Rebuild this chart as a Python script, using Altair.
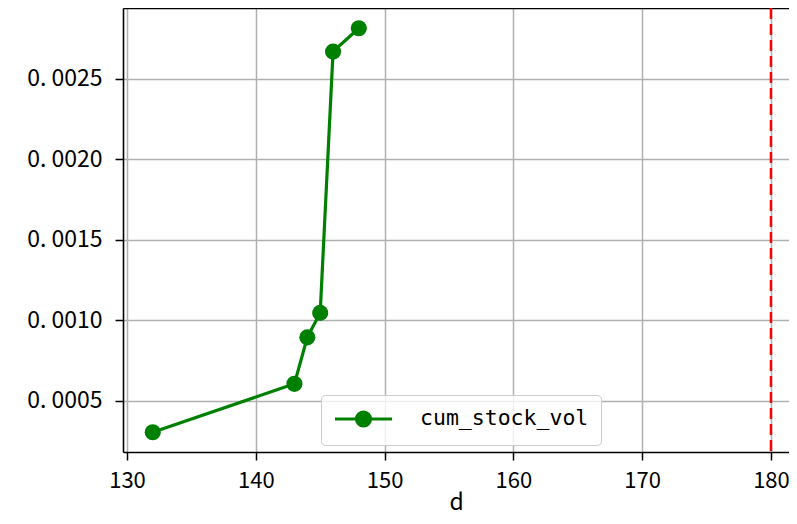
import altair as alt
import pandas as pd

days = [132, 143, 144, 145, 146, 148]
cum_stock_vol = [0.000303, 0.000604, 0.000893, 0.001045, 0.00267, 0.002815]
series_name = "cum_stock_vol"
vline_x = [180]
x_ticks = [130, 140, 150, 160, 170, 180]
y_ticks = [0.0005, 0.0010, 0.0015, 0.0020, 0.0025]

df = pd.DataFrame({"d": days, "value": cum_stock_vol, "series": [series_name] * len(days)})
vdf = pd.DataFrame({"d": vline_x})

FONT = "Noto Sans CJK SC"
xscale = alt.Scale(domain=[129.69, 181.40], nice=False, zero=False)
yscale = alt.Scale(domain=[0.000180, 0.002941], nice=False, zero=False)

legend_path = "M-1,0L4.7,0M1.15,0A0.7,0.7,0,1,1,2.55,0A0.7,0.7,0,1,1,1.15,0Z"

line = alt.Chart(df).mark_line(
    strokeWidth=3.2,
    point=alt.OverlayMarkDef(size=260, filled=True, opacity=1),
).encode(
    x=alt.X("d:Q", scale=xscale, axis=alt.Axis(
        values=x_ticks, title="d", grid=True, gridColor="#b0b0b0", gridWidth=1.5,
        domainColor="black", domainWidth=1.6, tickColor="black", tickWidth=1.5, tickSize=8,
        labelFont=FONT, labelFontSize=22, labelColor="black", labelPadding=10, labelFlush=False,
        titleFont=FONT, titleFontSize=23, titleFontWeight="normal", titleColor="black", titlePadding=0,
    )),
    y=alt.Y("value:Q", scale=yscale, axis=alt.Axis(
        values=y_ticks, title=None, grid=True, gridColor="#b0b0b0", gridWidth=1.5,
        labelExpr="replace(format(datum.value, '.4f'), '.', '. ')",
        domainColor="black", domainWidth=1.6, tickColor="black", tickWidth=1.5, tickSize=8,
        labelFont=FONT, labelFontSize=23, labelColor="black", labelPadding=13, labelFlush=False,
    )),
    color=alt.Color("series:N", scale=alt.Scale(domain=[series_name], range=["#008000"]), legend=alt.Legend(
        title=None, orient="none", legendX=198, legendY=387, padding=12,
        fillColor="rgba(255,255,255,0.8)", strokeColor="#cccccc", cornerRadius=4,
        symbolType=legend_path, symbolSize=400, symbolStrokeWidth=3.2,
        symbolFillColor="#008000", symbolStrokeColor="#008000", symbolOpacity=1,
        labelFont="DejaVu Sans Mono", labelFontSize=21.5, labelColor="black", labelOffset=63,
        labelLimit=400,
    )),
)

vline = alt.Chart(vdf).mark_rule(color="red", strokeWidth=2.5, strokeDash=[11, 5]).encode(
    x=alt.X("d:Q", scale=xscale, axis=alt.Axis(
        orient="top", labels=False, ticks=False, grid=False, title=None,
        domainColor="black", domainWidth=1.6)),
)

chart = alt.layer(line, vline).resolve_axis(x="independent").properties(
    width=666, height=444,
    autosize=alt.AutoSizeParams(type="none"),
    padding={"left": 115, "top": 0, "right": 0, "bottom": 64},
).configure_view(stroke=None).configure(background="white")

chart.save("out.html", embed_options={"renderer": "svg", "actions": False})
